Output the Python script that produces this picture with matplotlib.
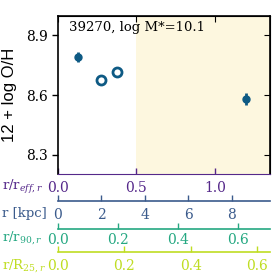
import matplotlib
matplotlib.use("Agg")
import matplotlib.pyplot as plt

# galaxy info
gal_id = 39270
logmass = 10.1

# conversion from r/r_eff to other radius units
r_eff_kpc = 7.23
r_eff_over_r90 = 0.523
r_eff_over_r25 = 0.473

# filled points (with error bars)
x_fill = [0.127, 1.197]
y_fill = [8.79, 8.58]
yerr_fill = [0.025, 0.03]
# open points
x_open = [0.274, 0.376]
y_open = [8.675, 8.715]

shade_start = 0.5

kpc_ticks = [0, 2, 4, 6, 8]
r90_ticks = [0.0, 0.2, 0.4, 0.6]
r25_ticks = [0.0, 0.2, 0.4, 0.6]

c_data = '#0e5a84'
c_eff = '#55288a'
c_kpc = '#3b5b8c'
c_r90 = '#25a882'
c_r25 = '#bfdd22'

plt.rcParams['font.family'] = 'DejaVu Serif'
plt.rcParams['mathtext.fontset'] = 'dejavuserif'
plt.rcParams['font.size'] = 10

fig = plt.figure(figsize=(2.77, 2.77), dpi=100)
ax = fig.add_axes([0.209, 0.372, 0.766, 0.570])

ax.axvspan(shade_start, 2, color='#fdf7df', zorder=0, lw=0)
ax.errorbar(x_fill, y_fill, yerr=yerr_fill, fmt='o', color=c_data, ms=5,
            elinewidth=2, capsize=0, zorder=3)
ax.plot(x_open, y_open, 'o', mfc='none', mec=c_data, mew=2, ms=6.5, zorder=3)

ax.set_xlim(0, 1.35)
ax.set_ylim(8.205, 8.995)
ax.set_yticks([8.3, 8.6, 8.9])
ax.set_xticks([0.0, 0.5, 1.0])
ax.set_ylabel('12 + log O/H', family='Liberation Sans', fontsize=12, labelpad=6)

ax.tick_params(axis='y', direction='out', length=4, width=1)
ax.tick_params(axis='x', direction='in', length=4, width=1, colors=c_eff, pad=5)
ax.spines['bottom'].set_color(c_eff)
for s in ['left', 'top', 'right']:
    ax.spines[s].set_linewidth(1.2)

# right and top ticks pointing inward
ax2 = ax.secondary_yaxis('right')
ax2.set_yticks([8.3, 8.6, 8.9])
ax2.tick_params(direction='in', length=4, labelright=False)
ax3 = ax.secondary_xaxis('top')
ax3.set_xticks([0.0, 0.5, 1.0])
ax3.tick_params(direction='in', length=4, labeltop=False, colors='black')

ax.text(0.05, 0.97, f'{gal_id}, log M*={logmass}', transform=ax.transAxes,
        ha='left', va='top', fontsize=9.5)

ax_h = 0.570 * 277
extra = [
    (27, lambda x: x * r_eff_kpc, lambda x: x / r_eff_kpc, kpc_ticks, c_kpc, 5),
    (55, lambda x: x * r_eff_over_r90, lambda x: x / r_eff_over_r90, r90_ticks, c_r90, 3),
    (78, lambda x: x * r_eff_over_r25, lambda x: x / r_eff_over_r25, r25_ticks, c_r25, 5),
]
for off, fwd, inv, ticks, col, pad in extra:
    sec = ax.secondary_xaxis(-off / ax_h, functions=(fwd, inv))
    sec.set_xticks(ticks)
    sec.tick_params(direction='in', length=4, width=1, colors=col, pad=pad)
    sec.spines['bottom'].set_color(col)
    sec.spines['bottom'].set_linewidth(1.2)

row_y = [187, 213, 238, 266]
row_lab = [r'r/r$_{eff,r}$', 'r [kpc]', r'r/r$_{90,r}$', r'r/R$_{25,r}$']
row_col = [c_eff, c_kpc, c_r90, c_r25]
for yy, lab, col in zip(row_y, row_lab, row_col):
    fig.text(2 / 277, 1 - yy / 277, lab, color=col, ha='left', va='center',
             fontsize=9.5)

fig.savefig('out.png', dpi=100)
